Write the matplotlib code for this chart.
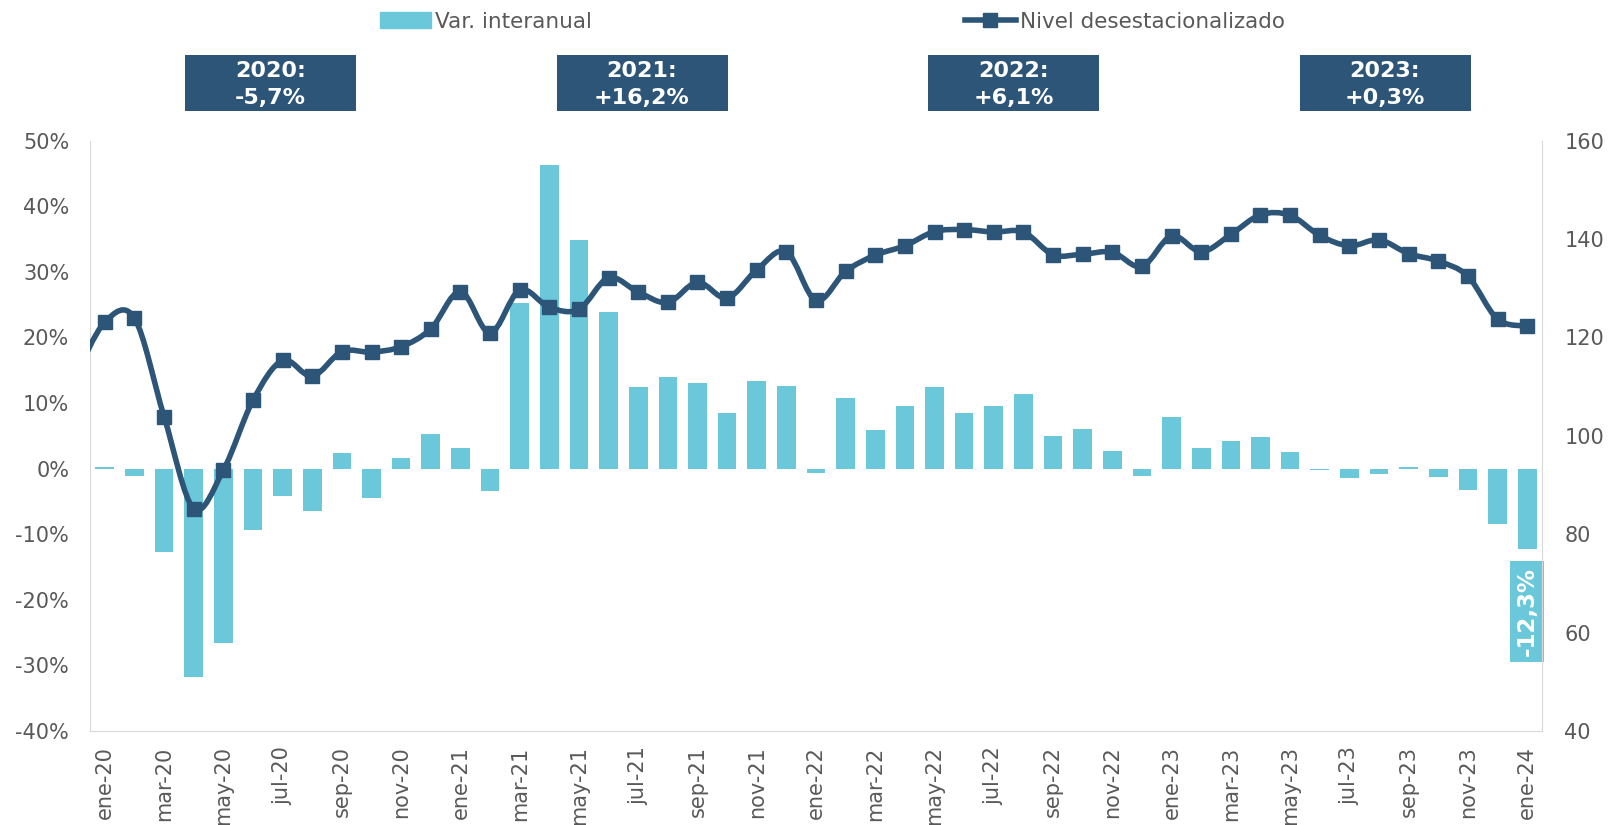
import numpy as np
import matplotlib
matplotlib.use("Agg")
import matplotlib.pyplot as plt
from matplotlib.path import Path
from matplotlib.patches import PathPatch, Rectangle, Patch
from matplotlib.lines import Line2D
from matplotlib.ticker import FuncFormatter

# --- Datos ---
meses = ['ene', 'feb', 'mar', 'abr', 'may', 'jun',
         'jul', 'ago', 'sep', 'oct', 'nov', 'dic']
anios = ['20', '21', '22', '23', '24']
fechas = [f'{m}-{a}' for a in anios for m in meses][:49]

# variación interanual (%)
var_interanual = [0.3, -1.2, -12.7, -31.8, -26.6, -9.4, -4.2, -6.4, 2.3, -4.5, 1.6, 5.3,
                  3.2, -3.4, 25.3, 46.2, 34.9, 23.9, 12.5, 13.9, 13.0, 8.5, 13.3, 12.6,
                  -0.7, 10.7, 5.9, 9.6, 12.5, 8.4, 9.5, 11.3, 4.9, 6.0, 2.7, -1.2,
                  7.8, 3.2, 4.2, 4.8, 2.5, -0.2, -1.5, -0.8, 0.2, -1.3, -3.3, -8.4,
                  -12.3]

# nivel desestacionalizado (eje derecho)
nivel_dic19 = 112.0  # punto previo, queda fuera del eje
nivel = [123.1, 123.9, 103.9, 85.2, 93.0, 107.2, 115.3, 112.1, 117.1, 117.0, 118.1, 121.7,
         129.3, 120.9, 129.6, 126.1, 125.7, 132.1, 129.2, 127.1, 131.2, 128.0, 133.7, 137.4,
         127.5, 133.4, 136.7, 138.6, 141.5, 141.9, 141.4, 141.4, 136.8, 136.9, 137.3, 134.4,
         140.6, 137.4, 140.9, 144.9, 144.8, 140.7, 138.6, 139.8, 137.0, 135.5, 132.4, 123.7,
         122.3]

resumen_anios = ['2020', '2021', '2022', '2023']
resumen_var = ['-5,7%', '+16,2%', '+6,1%', '+0,3%']

# --- Estilo ---
C_BAR = '#6AC8DA'
C_LINE = '#2D5578'
C_TXT = '#595959'
C_AX = '#D9D9D9'
FS = 15
plt.rcParams['font.family'] = ['DejaVu Sans']

W, H = 1609, 825


def curva_suave(x, y):
    # spline tipo Catmull-Rom (suavizado de Excel) como Bezier cubica
    n = len(x)
    verts = [(x[0], y[0])]
    codes = [Path.MOVETO]
    for i in range(n - 1):
        a = i - 1 if i > 0 else i
        b = i + 2 if i + 2 < n else i + 1
        c1 = (x[i] + (x[i + 1] - x[a]) / 6, y[i] + (y[i + 1] - y[a]) / 6)
        c2 = (x[i + 1] - (x[b] - x[i]) / 6, y[i + 1] - (y[b] - y[i]) / 6)
        verts += [c1, c2, (x[i + 1], y[i + 1])]
        codes += [Path.CURVE4] * 3
    return Path(verts, codes)


fig = plt.figure(figsize=(W / 100, H / 100), dpi=100)
ax = fig.add_axes([90 / W, 1 - 731 / H, (1542 - 90) / W, (731 - 140.5) / H])

x = np.arange(len(var_interanual))
ax.bar(x, var_interanual, width=0.63, color=C_BAR, zorder=2)
ax.set_xlim(-0.5, len(x) - 0.5)
ax.set_ylim(-40, 50)
ax.set_yticks(np.arange(-40, 51, 10))
ax.yaxis.set_major_formatter(FuncFormatter(lambda v, p: f'{v:.0f}%'))
ax.set_xticks(x[::2])
ax.set_xticklabels(fechas[::2], rotation=90)
ax.tick_params(axis='both', length=0, labelsize=FS, labelcolor=C_TXT)
ax.tick_params(axis='y', pad=15)
ax.tick_params(axis='x', pad=11)
for s in ['top', 'right']:
    ax.spines[s].set_visible(False)
ax.spines['left'].set_color(C_AX)
ax.spines['bottom'].set_color(C_AX)

# etiqueta del último dato
ax.text(x[-1], -21.8, '-12,3%', rotation=90, ha='center', va='center',
        color='white', fontsize=16.5, fontweight='bold',
        bbox=dict(boxstyle='square,pad=0.25', fc=C_BAR, ec='none'))

ax2 = ax.twinx()
xl = np.concatenate([[-1], x])
yl = [nivel_dic19] + nivel
ax2.add_patch(PathPatch(curva_suave(xl, yl), fill=False, ec=C_LINE, lw=4,
                        capstyle='round', joinstyle='round', zorder=3))
ax2.plot(x, nivel, ls='none', marker='s', ms=10, color=C_LINE, zorder=4)
ax2.set_ylim(40, 160)
ax2.set_yticks(np.arange(40, 161, 20))
ax2.tick_params(axis='y', length=0, labelsize=FS, labelcolor=C_TXT, pad=16)
for s in ['top', 'left', 'bottom']:
    ax2.spines[s].set_visible(False)
ax2.spines['right'].set_color(C_AX)
ax.set_xlim(-0.5, len(x) - 0.5)

# leyenda
ley_y = 1 - 21.5 / H
fig.legend(handles=[Patch(color=C_BAR, label='Var. interanual')],
           loc='center left', bbox_to_anchor=(380 / W, ley_y), frameon=False,
           fontsize=15.5, labelcolor=C_TXT, borderpad=0, borderaxespad=0,
           handlelength=2.35, handletextpad=0.2)
fig.legend(handles=[Line2D([], [], color=C_LINE, lw=4, marker='s', ms=10,
                           label='Nivel desestacionalizado')],
           loc='center left', bbox_to_anchor=(965 / W, ley_y), frameon=False,
           fontsize=15.5, labelcolor=C_TXT, borderpad=0, borderaxespad=0,
           handlelength=2.35, handletextpad=0.2)

# cajas de resumen anual (dos líneas separadas)
for i, (a, v) in enumerate(zip(resumen_anios, resumen_var)):
    cx = 270.5 + i * 371.5
    fig.add_artist(Rectangle(((cx - 85.5) / W, 1 - 111 / H), 171 / W, 56 / H,
                             transform=fig.transFigure, fc=C_LINE, ec='none'))
    fig.text(cx / W, 1 - 71 / H, f'{a}:', ha='center', va='center',
             color='white', fontsize=16, fontweight='bold')
    fig.text(cx / W, 1 - 98 / H, v, ha='center', va='center',
             color='white', fontsize=16, fontweight='bold')

fig.savefig('out.png', dpi=100)
